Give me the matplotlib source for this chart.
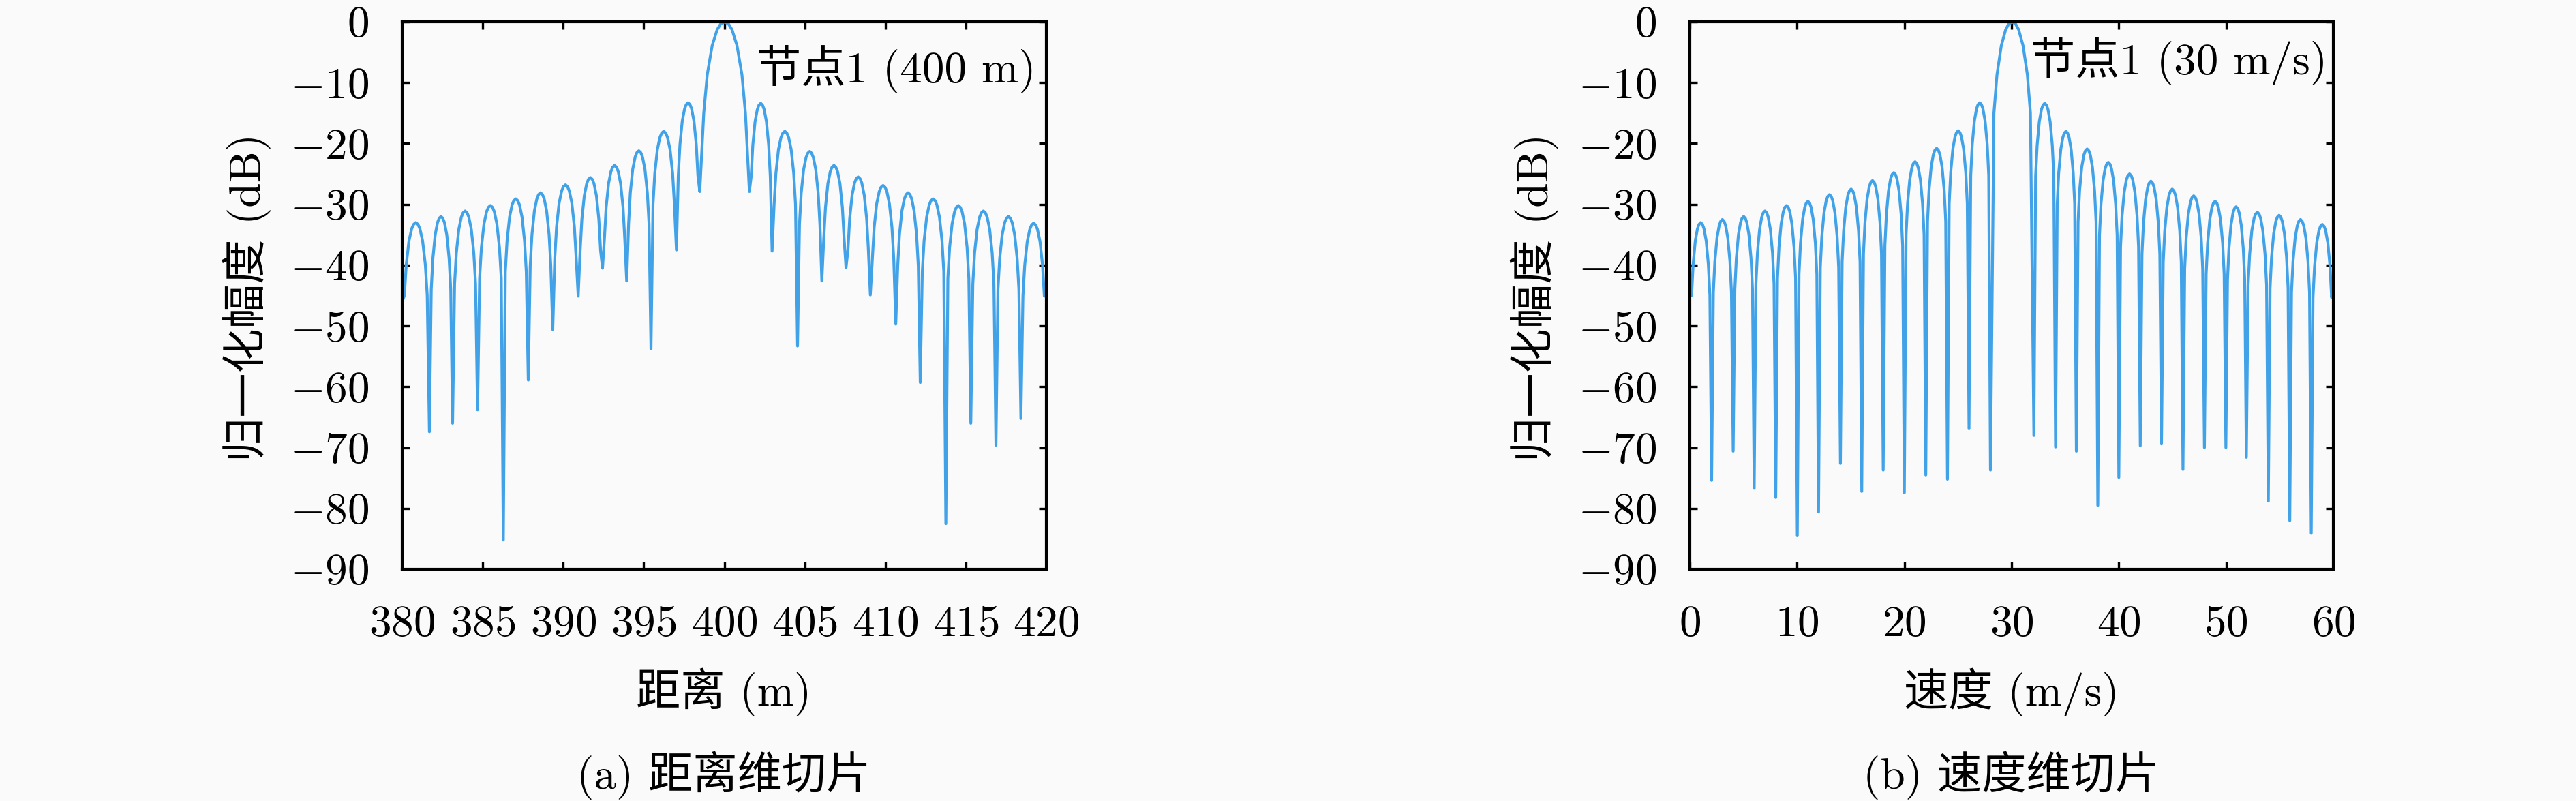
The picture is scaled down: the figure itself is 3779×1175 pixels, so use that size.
import numpy as np
import matplotlib
matplotlib.use("Agg")
import matplotlib.pyplot as plt

plt.rcParams["font.family"] = ["cmr10", "Noto Sans CJK SC"]
plt.rcParams["mathtext.fontset"] = "cm"
plt.rcParams["axes.formatter.use_mathtext"] = True
plt.rcParams["axes.unicode_minus"] = True

# ---- range cut (a): null positions (m), null depths and lobe peak levels (dB)
range_nulls = [380.0, 381.69, 383.13, 384.68, 386.28, 387.83, 389.35, 390.93, 392.44,
               393.94, 395.45, 397.03, 398.48, 401.56, 402.97, 404.55, 406.06, 407.56,
               409.07, 410.65, 412.17, 413.76, 415.31, 416.87, 418.42, 420.0]
range_null_db = [-46.0, -67.4, -66.0, -63.8, -85.2, -58.9, -50.6, -45.1, -40.5,
                 -42.6, -53.8, -37.5, -27.9, -27.9, -37.7, -53.3, -42.6, -40.4,
                 -44.9, -49.7, -59.3, -82.5, -66.0, -69.6, -65.2, -45.0]
range_peak_db = [-33.0, -32.0, -31.1, -30.2, -29.1, -28.1, -26.8, -25.6, -23.6, -21.2,
                 -18.0, -13.3, 0.0, -13.4, -18.0, -21.3, -23.6, -25.5, -26.9, -28.1,
                 -29.1, -30.2, -31.1, -32.0, -33.1]

# ---- velocity cut (b)
vel_nulls = [0.0, 2.03, 4.04, 6.00, 8.01, 10.02, 12.0, 14.04, 16.03, 18.03, 20.0,
             22.0, 24.02, 26.03, 28.03, 32.08, 34.1, 36.04, 38.04, 40.0, 42.0,
             43.98, 45.98, 47.98, 49.98, 51.89, 53.94, 55.94, 57.94, 60.0]
vel_null_db = [-42.0, -75.4, -70.6, -76.7, -78.2, -84.5, -80.6, -72.6, -77.2, -73.7,
               -77.4, -74.5, -75.2, -66.9, -73.7, -68.0, -69.9, -70.6, -79.5, -74.9,
               -69.7, -69.4, -73.6, -70.0, -70.0, -71.6, -78.8, -82.0, -84.1, -44.0]
vel_peak_db = [-33.0, -32.5, -32.0, -31.1, -30.2, -29.5, -28.4, -27.5, -26.1, -24.8,
               -23.0, -20.8, -17.9, -13.3, 0.0, -13.4, -18.0, -20.9, -23.1, -25.0,
               -26.2, -27.5, -28.6, -29.5, -30.4, -31.3, -31.8, -32.5, -33.3]

# lobe shape: position inside a lobe (0 = left null, 1 = right null)
# and level below the lobe peak (dB)
lobe_frac = [0.08, 0.15, 0.25, 0.35, 0.42, 0.5, 0.58, 0.65, 0.75, 0.85, 0.92]
side_drop = [-12.0, -6.9, -3.0, -1.0, -0.3, 0.0, -0.3, -1.0, -3.0, -6.9, -12.0]
main_drop = [-15.0, -8.7, -3.9, -1.3, -0.36, 0.0, -0.36, -1.3, -3.9, -8.7, -15.0]

xtick_range = [380, 385, 390, 395, 400, 405, 410, 415, 420]
xtick_vel = [0, 10, 20, 30, 40, 50, 60]
yticks = [-90, -80, -70, -60, -50, -40, -30, -20, -10, 0]

FS = 23.5
LINE_COLOR = "#42a2e8"


def build_curve(nulls, null_db, peak_db):
    xs, ys = [], []
    for i, pk in enumerate(peak_db):
        x0, x1 = nulls[i], nulls[i + 1]
        xs.append(x0)
        ys.append(null_db[i])
        drop = main_drop if pk == 0 else side_drop
        for f, d in zip(lobe_frac, drop):
            xs.append(x0 + f * (x1 - x0))
            ys.append(pk + d)
    xs.append(nulls[-1])
    ys.append(null_db[-1])
    return np.array(xs), np.array(ys)


fig = plt.figure(figsize=(18.9, 5.875), dpi=200, facecolor="#fafafa")

ax1 = fig.add_axes([590 / 3780, 1 - 835 / 1175, 945 / 3780, 803 / 1175])
ax2 = fig.add_axes([2479 / 3780, 1 - 835 / 1175, 944 / 3780, 803 / 1175])

panels = [
    (ax1, range_nulls, range_null_db, range_peak_db, xtick_range, (380, 420),
     "节点1 (400 m)", (402.0, -7.8)),
    (ax2, vel_nulls, vel_null_db, vel_peak_db, xtick_vel, (0, 60),
     "节点1 (30 m/s)", (31.8, -6.5)),
]

for ax, nulls, ndb, pdb, xt, xl, note, note_xy in panels:
    ax.set_facecolor("#fafafa")
    x, y = build_curve(nulls, ndb, pdb)
    ax.plot(x, y, color=LINE_COLOR, lw=1.5)
    ax.set_xlim(*xl)
    ax.set_ylim(-90, 0)
    ax.set_xticks(xt)
    ax.set_yticks(yticks)
    ax.tick_params(direction="in", top=True, right=True, length=4, width=1.2,
                   labelsize=FS)
    ax.tick_params(axis="y", pad=17.5)
    ax.tick_params(axis="x", pad=19)
    for sp in ax.spines.values():
        sp.set_linewidth(1.5)
    ax.text(note_xy[0], note_xy[1], note, fontsize=FS, ha="left", va="center")

# axis labels and captions
for cx, lx, xlab, cap in [(1062, 362, "距离 (m)", "(a) 距离维切片"),
                          (2951, 2251, "速度 (m/s)", "(b) 速度维切片")]:
    fig.text(lx / 3780, 1 - 436 / 1175, "归一化幅度 (dB)", rotation=90,
             ha="center", va="center", fontsize=FS)
    fig.text(cx / 3780, 1 - 1015 / 1175, xlab, ha="center", va="center", fontsize=FS)
    fig.text(cx / 3780, 1 - 1137 / 1175, cap, ha="center", va="center", fontsize=FS)

fig.savefig("out.png", dpi=200, facecolor=fig.get_facecolor())
